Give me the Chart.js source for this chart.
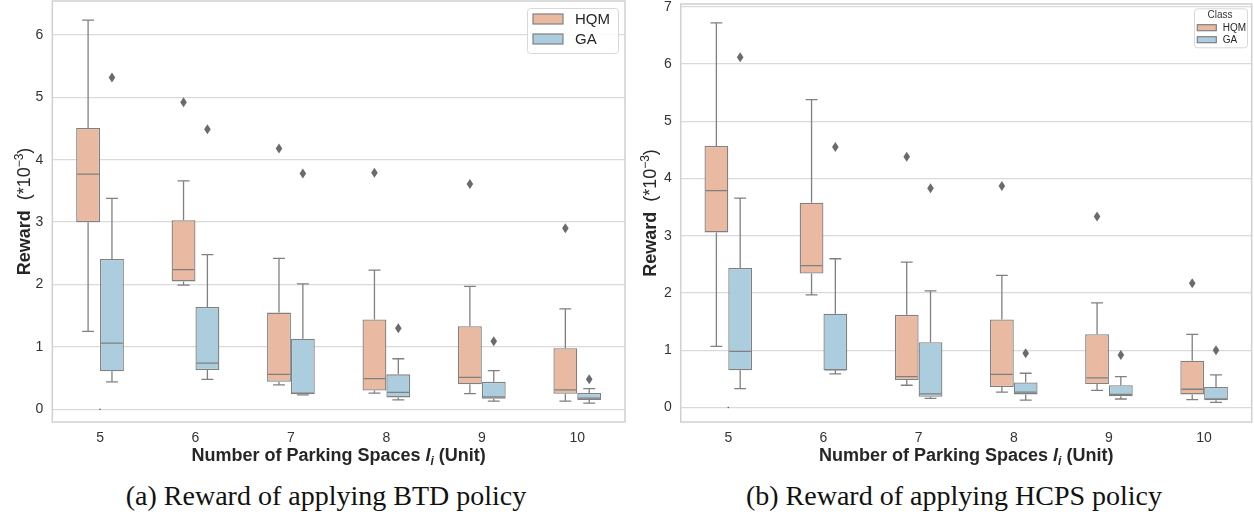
<!DOCTYPE html>
<html><head><meta charset="utf-8">
<script src="https://cdn.jsdelivr.net/npm/chart.js@4.4.1/dist/chart.umd.min.js"></script>
<style>
html,body{margin:0;padding:0;background:#fff;width:1254px;height:525px;overflow:hidden;position:relative}
.panel{position:absolute;top:0;height:470px}
.cap{position:absolute;top:480px;width:600px;font-family:"Liberation Serif","DejaVu Serif",serif;font-size:28px;color:#111;text-align:center;white-space:nowrap}
</style></head><body>
<div class="panel" style="left:0;width:630px"><canvas id="c1"></canvas></div>
<div class="panel" style="left:630px;width:624px"><canvas id="c2"></canvas></div>
<div class="cap" style="left:26px">(a) Reward of applying BTD policy</div>
<div class="cap" style="left:654px">(b) Reward of applying HCPS policy</div>
<script>
// ---------------- DATA (values in units of 10^-3) ----------------
const categories = ['5', '6', '7', '8', '9', '10'];
const seriesNames = ['HQM', 'GA'];
// each row: [lower whisker, Q1, median, Q3, upper whisker]
const btdHQM = [[1.25,3.00,3.77,4.51,6.24],[1.99,2.05,2.24,3.03,3.66],[0.39,0.44,0.56,1.55,2.42],[0.26,0.30,0.49,1.44,2.23],[0.25,0.40,0.51,1.33,1.97],[0.13,0.25,0.31,0.98,1.61]];
const btdGA  = [[0.44,0.61,1.06,2.41,3.38],[0.48,0.63,0.74,1.64,2.48],[0.23,0.24,0.26,1.13,2.01],[0.15,0.19,0.27,0.56,0.81],[0.13,0.17,0.20,0.44,0.62],[0.10,0.15,0.18,0.26,0.33]];
const btdHQMOutliers = [null, 4.92, 4.18, 3.79, 3.61, 2.90];
const btdGAOutliers  = [5.32, 4.49, 3.78, 1.30, 1.09, 0.48];
const hcpsHQM = [[1.07,3.06,3.79,4.57,6.72],[1.97,2.34,2.48,3.58,5.38],[0.39,0.48,0.54,1.62,2.54],[0.27,0.36,0.58,1.54,2.31],[0.30,0.41,0.52,1.28,1.83],[0.14,0.23,0.32,0.82,1.28]];
const hcpsGA  = [[0.33,0.65,0.98,2.44,3.66],[0.59,0.65,0.66,1.64,2.60],[0.16,0.19,0.24,1.14,2.04],[0.13,0.23,0.27,0.44,0.60],[0.15,0.20,0.23,0.39,0.54],[0.09,0.13,0.15,0.36,0.57]];
const hcpsHQMOutliers = [null, null, 4.38, 3.87, 3.34, 2.17];
const hcpsGAOutliers  = [6.12, 4.55, 3.83, 0.95, 0.92, 1.00];
const strayValue = 0;              // tiny stray mark at category "5"
const btdRange = [-0.204, 6.545];
const hcpsRange = [-0.252, 7.05];

// ---------------- STYLE ----------------
const FONT = "'Liberation Sans', Arial, sans-serif";
Chart.defaults.font.family = FONT;
const HQM_FILL = '#E9B9A2', GA_FILL = '#ABCDDE';
const LINE = '#808080', TEXT = '#262626', GRID = '#dadada', MARK = '#6b6b6b';
const CAT_PCT = 0.5;

const boxPlugin = {
  id: 'boxParts',
  afterDatasetsDraw(chart) {
    const ctx = chart.ctx, y = chart.scales.y;
    const p = v => y.getPixelForValue(v);
    chart.data.datasets.forEach((ds, d) => {
      if (!ds.stats) return;
      const meta = chart.getDatasetMeta(d);
      meta.data.forEach((el, i) => {
        const s = ds.stats[i]; if (!s) return;
        const x = el.x, w = el.width;
        ctx.save();
        ctx.strokeStyle = LINE; ctx.lineWidth = 1.3;
        ctx.beginPath();
        ctx.moveTo(x, p(s[3])); ctx.lineTo(x, p(s[4]));
        ctx.moveTo(x - w/4, p(s[4])); ctx.lineTo(x + w/4, p(s[4]));
        ctx.moveTo(x, p(s[1])); ctx.lineTo(x, p(s[0]));
        ctx.moveTo(x - w/4, p(s[0])); ctx.lineTo(x + w/4, p(s[0]));
        ctx.moveTo(x - w/2 + 1, p(s[2])); ctx.lineTo(x + w/2 - 1, p(s[2]));
        ctx.stroke();
        const o = ds.outliers[i];
        if (o != null) {
          const oy = p(o);
          ctx.fillStyle = MARK;
          ctx.beginPath(); ctx.moveTo(x, oy - 5); ctx.lineTo(x + 3.3, oy); ctx.lineTo(x, oy + 5); ctx.lineTo(x - 3.3, oy); ctx.closePath(); ctx.fill();
        }
        ctx.restore();
      });
    });
    const xs = chart.scales.x;
    ctx.save(); ctx.fillStyle = '#555';
    ctx.beginPath(); ctx.arc(xs.getPixelForValue(0), p(strayValue), 0.8, 0, Math.PI * 2); ctx.fill();
    ctx.restore();
  }
};

const framePlugin = {
  id: 'frameAndTitles',
  beforeDatasetsDraw(chart) {
    const {ctx, chartArea: a} = chart;
    ctx.save(); ctx.strokeStyle = '#d0d0d0'; ctx.lineWidth = 1.5;
    ctx.strokeRect(a.left, a.top, a.right - a.left, a.bottom - a.top);
    ctx.restore();
  },
  afterDraw(chart, args, opts) {
    const {ctx, chartArea: a} = chart;
    ctx.save();
    ctx.fillStyle = TEXT; ctx.textBaseline = 'alphabetic';
    const drawSegs = (list, cx, base) => {
      let total = 0;
      list.forEach(s => { ctx.font = s.f; s.w = ctx.measureText(s.t).width; total += s.w; });
      let x = cx - total / 2;
      list.forEach(s => { ctx.font = s.f; ctx.textAlign = 'left'; ctx.fillText(s.t, x, base + s.dy); x += s.w; });
    };
    drawSegs([
      {t: 'Number of Parking Spaces ', f: 'bold 18px ' + FONT, dy: 0},
      {t: 'l', f: 'italic bold 18px ' + FONT, dy: 0},
      {t: 'i', f: 'italic bold 12px ' + FONT, dy: 4},
      {t: ' (Unit)', f: 'bold 18px ' + FONT, dy: 0}
    ], (a.left + a.right) / 2, 461);
    ctx.translate(a.left - opts.yTitleGap, (a.top + a.bottom) / 2);
    ctx.rotate(-Math.PI / 2);
    drawSegs([
      {t: 'Reward', f: 'bold 18px ' + FONT, dy: 0},
      {t: '  (*10', f: '18px ' + FONT, dy: 0},
      {t: '\u22123', f: '12px ' + FONT, dy: -7},
      {t: ')', f: '18px ' + FONT, dy: 0}
    ], 0, 6);
    ctx.restore();

    const L = opts.legend;
    const bx = a.right - L.right - L.w, by = a.top + L.top;
    ctx.save();
    ctx.fillStyle = 'rgba(255,255,255,0.85)'; ctx.strokeStyle = '#d8d8d8'; ctx.lineWidth = 1;
    ctx.beginPath(); ctx.roundRect(bx + 0.5, by + 0.5, L.w, L.h, 3); ctx.fill(); ctx.stroke();
    ctx.textBaseline = 'middle';
    if (L.title) {
      ctx.font = L.font + 'px ' + FONT; ctx.fillStyle = '#333'; ctx.textAlign = 'center';
      ctx.fillText(L.title, bx + L.titleX, by + L.titleY);
    }
    chart.data.datasets.filter(ds => ds.stats).forEach((ds, k) => {
      const cy = by + L.rows[k];
      ctx.fillStyle = ds.backgroundColor; ctx.strokeStyle = LINE; ctx.lineWidth = 1.2;
      ctx.fillRect(bx + L.px, cy - L.ph/2, L.pw, L.ph);
      ctx.strokeRect(bx + L.px, cy - L.ph/2, L.pw, L.ph);
      ctx.fillStyle = TEXT; ctx.textAlign = 'left'; ctx.font = L.font + 'px ' + FONT;
      ctx.fillText(ds.label, bx + L.tx, cy + 1);
    });
    ctx.restore();
  }
};

function makeChart(id, hqm, ga, hqmOut, gaOut, range, cfg) {
  const toBox = s => [s[1], s[3]];
  return new Chart(document.getElementById(id), {
    type: 'bar',
    data: {
      labels: categories,
      datasets: [
        {label: seriesNames[0], data: hqm.map(toBox), stats: hqm, outliers: hqmOut, backgroundColor: HQM_FILL, borderColor: LINE, borderWidth: 1.3, borderSkipped: false, categoryPercentage: CAT_PCT, barPercentage: 1.0},
        {label: seriesNames[1], data: ga.map(toBox), stats: ga, outliers: gaOut, backgroundColor: GA_FILL, borderColor: LINE, borderWidth: 1.3, borderSkipped: false, categoryPercentage: CAT_PCT, barPercentage: 1.0}
      ]
    },
    options: {
      responsive: true, maintainAspectRatio: false, animation: false,
      layout: {padding: {left: 0, right: cfg.padRight, top: cfg.padTop, bottom: 0}},
      plugins: {legend: {display: false}, tooltip: {enabled: false},
        frameAndTitles: {yTitleGap: cfg.yTitleGap, legend: cfg.legend}},
      scales: {
        x: {type: 'category', offset: true, grid: {display: false, drawTicks: false}, border: {display: false},
            ticks: {color: '#333', font: {size: 14}, padding: 8},
            afterFit(s) { s.height = 48; s.paddingLeft = 0; s.paddingRight = 0; }},
        y: {min: range[0], max: range[1], grid: {color: GRID, lineWidth: 1.3, drawTicks: false}, border: {display: false},
            ticks: {stepSize: 1, includeBounds: false, color: '#333', font: {size: 14}, padding: 9},
            afterFit(s) { s.width = cfg.yWidth; s.paddingTop = 0; s.paddingBottom = 0; }}
      }
    },
    plugins: [framePlugin, boxPlugin]
  });
}

makeChart('c1', btdHQM, btdGA, btdHQMOutliers, btdGAOutliers, btdRange, {
  padRight: 5, padTop: 1, yWidth: 52.3, yTitleGap: 28,
  legend: {right: 7, top: 7, w: 91, h: 45, px: 6, pw: 30, ph: 10, rows: [11, 31], tx: 48, font: 15, title: null}
});
makeChart('c2', hcpsHQM, hcpsGA, hcpsHQMOutliers, hcpsGAOutliers, hcpsRange, {
  padRight: 2.3, padTop: 4, yWidth: 50.7, yTitleGap: 30.5,
  legend: {right: 4.7, top: 4.3, w: 53, h: 39, px: 3.3, pw: 19, ph: 6, rows: [19.4, 31.4], tx: 28.7, font: 10, title: 'Class', titleX: 26, titleY: 7}
});
</script>
</body></html>
